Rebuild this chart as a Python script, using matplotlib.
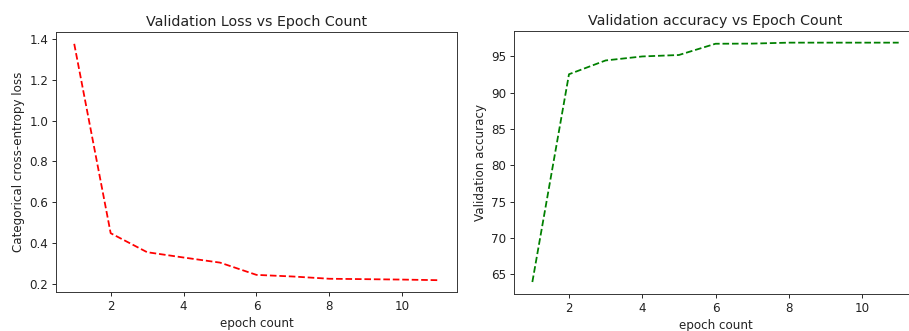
import matplotlib
matplotlib.use("Agg")
import matplotlib.pyplot as plt

# values
epochs = [1, 2, 3, 4, 5, 6, 7, 8, 9, 10, 11]
val_loss = [1.376, 0.449, 0.356, 0.330, 0.305, 0.245, 0.237, 0.226, 0.224, 0.222, 0.219]
val_acc = [63.94, 92.55, 94.45, 95.0, 95.2, 96.75, 96.77, 96.9, 96.9, 96.9, 96.9]

# reference was rendered a bit larger and shrunk, so scale everything up
s = 1.19
plt.rcParams.update({
    'font.size': 10 * s,
    'axes.titlesize': 12 * s,
    'lines.linewidth': 1.5 * s,
    'axes.linewidth': 0.8 * s,
    'xtick.major.size': 3.5 * s,
    'ytick.major.size': 3.5 * s,
    'xtick.major.width': 0.8 * s,
    'ytick.major.width': 0.8 * s,
    'text.color': '#222222',
    'axes.labelcolor': '#222222',
    'xtick.color': '#222222',
    'ytick.color': '#222222',
    'axes.edgecolor': '#333333',
})

fig = plt.figure(figsize=(909 / 72, 331 / 72), dpi=72)

# left: loss
ax1 = fig.add_axes([0.0616, 0.1178, 0.4411, 0.7855])
ax1.plot(epochs, val_loss, 'r--')
ax1.set_title('Validation Loss vs Epoch Count')
ax1.set_xlabel('epoch count')
ax1.set_ylabel('Categorical cross-entropy loss')

# right: accuracy (runs off the right edge like the reference)
ax2 = fig.add_axes([0.5655, 0.1118, 0.4433, 0.7955])
ax2.plot(epochs, val_acc, 'g--')
ax2.set_title('Validation accuracy vs Epoch Count')
ax2.set_xlabel('epoch count')
ax2.set_ylabel('Validation accuracy')

fig.savefig('out.png', dpi=72)
